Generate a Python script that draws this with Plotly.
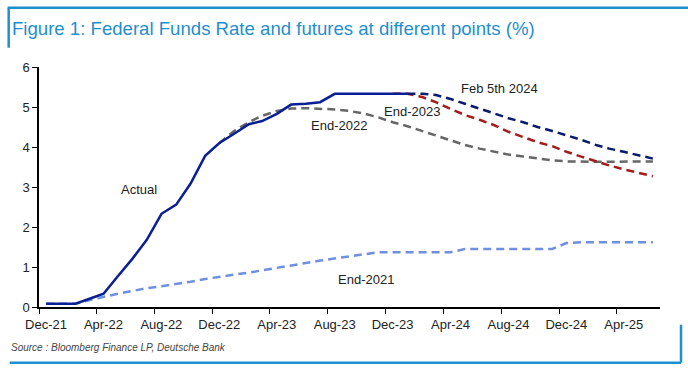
import pandas as pd
import plotly.graph_objects as go

# Month categories (Dec-21 .. Jun-25), index 0..42
months = pd.date_range("2021-12-01", "2025-06-01", freq="MS")

actual = [0.08, 0.08, 0.08, 0.20, 0.33, 0.77, 1.21, 1.68, 2.33, 2.56, 3.08, 3.78,
          4.10, 4.33, 4.57, 4.65, 4.83, 5.06, 5.08, 5.12, 5.33, 5.33, 5.33, 5.33,
          5.33, 5.33]
actual_start = 0

end2021 = [0.08, 0.08, 0.08, 0.17, 0.26, 0.33, 0.40, 0.47, 0.52, 0.57, 0.63, 0.70,
           0.76, 0.81, 0.86, 0.92, 0.98, 1.04, 1.10, 1.16, 1.21, 1.27, 1.32, 1.37,
           1.37, 1.37, 1.37, 1.37, 1.37, 1.45, 1.45, 1.45, 1.45, 1.45, 1.45, 1.45,
           1.60, 1.62, 1.62, 1.62, 1.62, 1.62, 1.62]
end2021_start = 0

end2022 = [4.10, 4.40, 4.62, 4.78, 4.90, 4.96, 4.97, 4.96, 4.94, 4.90, 4.84, 4.74,
           4.62, 4.52, 4.40, 4.27, 4.15, 4.05, 3.96, 3.88, 3.81, 3.76, 3.71, 3.67,
           3.64, 3.63, 3.63, 3.63, 3.64, 3.64, 3.64]
end2022_start = 12

end2023 = [5.33, 5.33, 5.25, 5.12, 4.95, 4.80, 4.68, 4.55, 4.38, 4.25, 4.12, 4.02,
           3.88, 3.76, 3.64, 3.54, 3.44, 3.35, 3.27]
end2023_start = 24

feb2024 = [5.33, 5.33, 5.30, 5.20, 5.08, 4.96, 4.84, 4.72, 4.62, 4.50, 4.40, 4.30,
           4.18, 4.05, 3.96, 3.88, 3.80, 3.71]
feb2024_start = 25

tick_labels = ["Dec-21", "Apr-22", "Aug-22", "Dec-22", "Apr-23", "Aug-23",
               "Dec-23", "Apr-24", "Aug-24", "Dec-24", "Apr-25"]

mid = months + pd.Timedelta(days=15)

def xs(start, vals):
    return mid[start:start + len(vals)]

fig = go.Figure()
dash = "8px,5px"
fig.add_trace(go.Scatter(x=xs(end2021_start, end2021), y=end2021, mode="lines",
                         line=dict(color="#6f8fe0", width=2.5, dash=dash)))
fig.add_trace(go.Scatter(x=xs(end2022_start, end2022), y=end2022, mode="lines",
                         line=dict(color="#666666", width=2.5, dash=dash)))
fig.add_trace(go.Scatter(x=xs(end2023_start, end2023), y=end2023, mode="lines",
                         line=dict(color="#a51c1c", width=2.5, dash=dash)))
fig.add_trace(go.Scatter(x=xs(feb2024_start, feb2024), y=feb2024, mode="lines",
                         line=dict(color="#0a1a6e", width=2.5, dash=dash)))
fig.add_trace(go.Scatter(x=xs(actual_start, actual), y=actual, mode="lines",
                         line=dict(color="#0a1f94", width=2.5)))

tickvals = months[::4]

L, R, T, B = 39.3, 660.0, 67.3, 307.3
W, H = R - L, B - T
def px(x): return (x - L) / W
def py(y): return (B - y) / H

labels = [("Actual", 139.3, 189.3), ("End-2021", 366, 280), ("End-2022", 339.3, 125.7),
          ("End-2023", 411.7, 111.7), ("Feb 5th 2024", 500, 89)]
for txt, x, y in labels:
    fig.add_annotation(text=txt, x=px(x), y=py(y), xref="paper", yref="paper",
                       showarrow=False, font=dict(size=13, color="#222222"),
                       xanchor="center", yanchor="middle")

fig.add_annotation(text="<i>Source : Bloomberg Finance LP, Deutsche Bank</i>",
                   x=px(9), y=py(348), xref="paper", yref="paper", showarrow=False,
                   xanchor="left", yanchor="middle",
                   font=dict(size=10, color="#444444"))

blue = "#1f8fd0"
shapes = [
    dict(type="line", xref="paper", yref="paper", x0=px(8), x1=px(688), y0=py(8), y1=py(8),
         line=dict(color=blue, width=2.5)),
    dict(type="line", xref="paper", yref="paper", x0=px(9), x1=px(9), y0=py(8), y1=py(48),
         line=dict(color=blue, width=2.5)),
    dict(type="line", xref="paper", yref="paper", x0=px(10), x1=px(681), y0=py(363), y1=py(363),
         line=dict(color=blue, width=2.5)),
    dict(type="line", xref="paper", yref="paper", x0=px(681), x1=px(681), y0=py(325), y1=py(363),
         line=dict(color=blue, width=2.5)),
]

fig.update_layout(
    width=688, height=373,
    margin=dict(l=L, r=688 - R, t=T, b=373 - B),
    paper_bgcolor="white", plot_bgcolor="white",
    showlegend=False,
    font=dict(family="Liberation Sans, Arial, sans-serif", size=13, color="#222222"),
    title=dict(text="Figure 1: Federal Funds Rate and futures at different points (%)",
               x=12 / 688, xref="container", xanchor="left",
               y=1 - 28 / 373, yref="container", yanchor="middle",
               font=dict(family="Liberation Sans, Arial, sans-serif",
                         size=18.6, color=blue)),
    shapes=shapes,
    xaxis=dict(range=[months[0], pd.Timestamp("2025-07-01")], tickvals=tickvals,
               ticktext=tick_labels, ticks="outside", ticklen=5, tickcolor="black",
               showline=True, linecolor="black", linewidth=1.5, showgrid=False,
               zeroline=False, ticklabelshift=7, tickfont=dict(size=13, color="#222222")),
    yaxis=dict(range=[0, 6], dtick=1, ticks="outside", ticklen=5, tickcolor="black",
               showline=True, linecolor="black", linewidth=1.5, showgrid=False,
               zeroline=False, tickfont=dict(size=13, color="#222222")),
)

fig.write_html("out.html", config={"displayModeBar": False},
               post_script="document.body.style.margin='0px';")
